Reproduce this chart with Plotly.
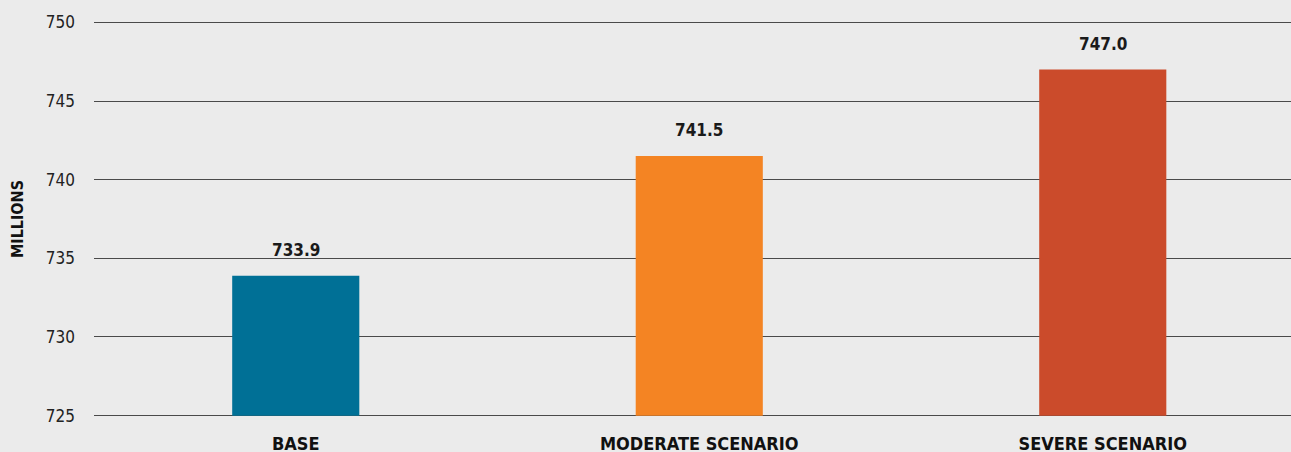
import plotly.graph_objects as go

# Scenario results (millions)
scenarios = ["BASE", "MODERATE SCENARIO", "SEVERE SCENARIO"]
values = [733.9, 741.5, 747.0]
colors = ["#007096", "#F48423", "#CB4B2B"]
y_ticks = [725, 730, 735, 740, 745, 750]

FONT = "Liberation Sans Narrow, DejaVu Sans Condensed, Arial Narrow, sans-serif"

# bars start at the bottom of the axis (725), so plot heights above it
axis_floor = y_ticks[0]
heights = [v - axis_floor for v in values]

fig = go.Figure()
fig.add_trace(go.Bar(
    x=scenarios,
    y=heights,
    base=axis_floor,
    marker=dict(color=colors, line=dict(width=0)),
    width=0.315,
    customdata=values,
    hovertemplate="%{x}: %{customdata:.1f}<extra></extra>",
))

# value labels above bars
for s, v in zip(scenarios, values):
    fig.add_annotation(
        x=s, y=v, text=f"<b>{v:.1f}</b>", showarrow=False,
        yanchor="bottom", yshift=14,
        font=dict(family=FONT, size=17, color="#1a1a1a"),
    )

fig.update_layout(
    width=1291, height=452,
    margin=dict(l=94, r=0, t=20, b=34),
    paper_bgcolor="#EBEBEB",
    plot_bgcolor="#EBEBEB",
    showlegend=False,
    font=dict(family=FONT, color="#222222"),
)
fig.update_xaxes(
    range=[-0.5, 2.4665],
    automargin=False,
    showgrid=False, showline=False, zeroline=False,
    tickfont=dict(family=FONT, size=18, color="#111111"),
    ticklabelstandoff=13,
    tickvals=scenarios,
    ticktext=[f"<b>{s}</b>" for s in scenarios],
)
fig.update_yaxes(
    range=[724.85, 750.15],
    automargin=False,
    tickvals=y_ticks,
    showgrid=True, gridcolor="#4a4a4a", gridwidth=1,
    zeroline=False, showline=False,
    ticks="", ticklabelstandoff=18,
    tickfont=dict(family=FONT, size=17, color="#222222"),
    title=dict(text="<b>MILLIONS</b>", standoff=18,
               font=dict(family=FONT, size=16, color="#111111")),
)

fig.write_html("out.html", config={"displayModeBar": False},
               post_script="document.body.style.margin='0';")
